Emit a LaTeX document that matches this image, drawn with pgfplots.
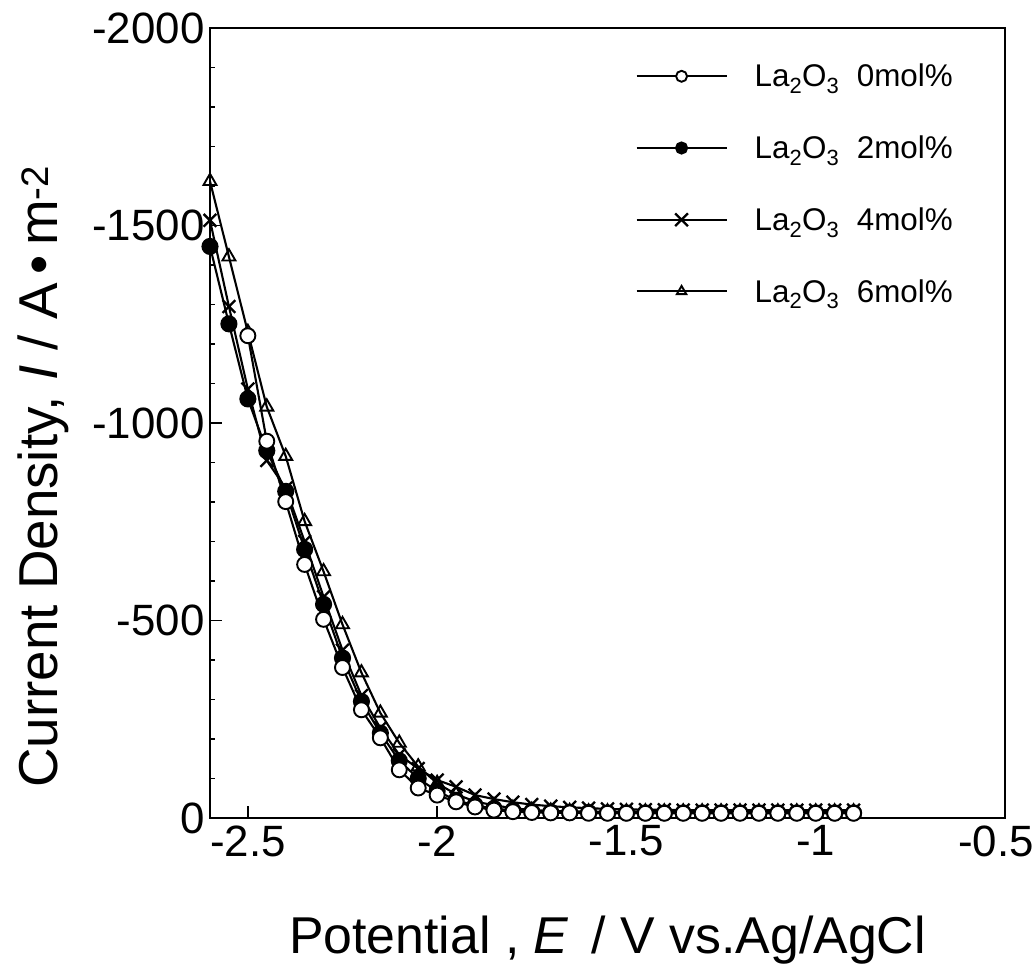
\documentclass[border=0pt]{standalone}
\usepackage{fontspec}
\setmainfont{Liberation Sans}
\usepackage{pgfplots}
\pgfplotsset{compat=1.18}

\pgfplotstableread{
x y
-2.50 -1221
-2.45 -954
-2.40 -801
-2.35 -642
-2.30 -503
-2.25 -381
-2.20 -274
-2.15 -203
-2.10 -122
-2.05 -76
-2.00 -58
-1.95 -41
-1.90 -28
-1.85 -20
-1.80 -16
-1.75 -14
-1.70 -13
-1.65 -13
-1.60 -12
-1.55 -12
-1.50 -12
-1.45 -12
-1.40 -12
-1.35 -12
-1.30 -12
-1.25 -12
-1.20 -12
-1.15 -12
-1.10 -12
-1.05 -12
-1.00 -12
-0.95 -12
-0.90 -12
}\tzero

\pgfplotstableread{
x y
-2.60 -1447
-2.55 -1251
-2.50 -1061
-2.45 -930
-2.40 -827
-2.35 -680
-2.30 -541
-2.25 -405
-2.20 -295
-2.15 -215
-2.10 -145
-2.05 -100
-2.00 -68
-1.95 -45
-1.90 -32
-1.85 -24
-1.80 -19
-1.75 -16
-1.70 -15
-1.65 -14
-1.60 -14
-1.55 -13
-1.50 -13
-1.45 -13
-1.40 -13
-1.35 -13
-1.30 -13
-1.25 -13
-1.20 -13
-1.15 -13
-1.10 -13
-1.05 -13
-1.00 -13
-0.95 -13
-0.90 -13
}\ttwo

\pgfplotstableread{
x y
-2.60 -1513
-2.55 -1295
-2.50 -1086
-2.45 -905
-2.40 -835
-2.35 -700
-2.30 -560
-2.25 -425
-2.20 -310
-2.15 -228
-2.10 -160
-2.05 -125
-2.00 -96
-1.95 -79
-1.90 -58
-1.85 -48
-1.80 -40
-1.75 -34
-1.70 -30
-1.65 -27
-1.60 -25
-1.55 -23
-1.50 -22
-1.45 -21
-1.40 -21
-1.35 -20
-1.30 -20
-1.25 -20
-1.20 -20
-1.15 -20
-1.10 -20
-1.05 -20
-1.00 -20
-0.95 -20
-0.90 -20
}\tfour

\pgfplotstableread{
x y
-2.60 -1612
-2.55 -1421
-2.50 -1230
-2.45 -1041
-2.40 -916
-2.35 -751
-2.30 -624
-2.25 -490
-2.20 -368
-2.15 -266
-2.10 -190
-2.05 -130
-2.00 -88
-1.95 -60
-1.90 -42
-1.85 -32
-1.80 -25
-1.75 -20
-1.70 -18
-1.65 -17
-1.60 -16
-1.55 -16
-1.50 -16
-1.45 -16
-1.40 -16
-1.35 -16
-1.30 -16
-1.25 -16
-1.20 -16
-1.15 -16
-1.10 -16
-1.05 -16
-1.00 -16
-0.95 -16
-0.90 -16
}\tsix

\begin{document}
\begin{tikzpicture}
\begin{axis}[
  scale only axis,
  width=795bp, height=790bp,
  xmin=-2.6, xmax=-0.5,
  ymin=-2000, ymax=0,
  y dir=reverse,
  axis line style={line width=2.2bp},
  xtick={-2.5,-2,-1.5,-1,-0.5},
  xticklabels={-2.5,-2,-1.5,-1,{\kern-18bp-0.5}},
  ytick={0,-500,-1000,-1500,-2000},
  minor ytick={-100,-200,-300,-400,-600,-700,-800,-900,-1100,-1200,-1300,-1400,-1600,-1700,-1800,-1900},
  tick pos=left,
  tick align=inside,
  major tick length=12bp,
  minor tick length=5bp,
  every tick/.style={black, line width=1.8bp},
  /pgf/number format/assume math mode=true,
  /pgf/number format/1000 sep={},
  ticklabel style={font=\fontsize{44}{48}\selectfont},
  xticklabel style={yshift=-4bp},
  yticklabel style={xshift=-2bp},
  xlabel={Potential , \textit{E}\, / V vs.Ag/AgCl},
  ylabel={Current Density, \textit{I} / A\,•\,m\textsuperscript{-2}},
  every axis x label/.style={at={(axis description cs:0.5,0)}, anchor=center, yshift=-122bp, font=\fontsize{52}{56}\selectfont},
  every axis y label/.style={at={(axis description cs:-0.21,0.432)}, anchor=center, rotate=90, font=\fontsize{55}{59}\selectfont},
  reverse legend,
  legend cell align=left,
  legend image code/.code={\draw[mark repeat=2,mark phase=2,mark size=5.5bp] plot coordinates {(0bp,0bp)(45bp,0bp)(90bp,0bp)};},
  legend style={draw=none, fill=none, at={(axis description cs:0.535,0.957)}, anchor=north west,
    font=\fontsize{31.5}{35}\selectfont, row sep=43.5bp, column sep=25bp, inner sep=0pt},
  every axis plot/.append style={black, line width=2.1bp, mark size=7.5bp},
]
\addplot[mark=triangle, mark options={fill=white, line width=1.9bp}] table {\tsix};
\addlegendentry{La\textsubscript{2}O\textsubscript{3}\ \ 6mol\%}
\addplot[mark=x, mark options={line width=2.3bp, mark size=9bp}] table {\tfour};
\addlegendentry{La\textsubscript{2}O\textsubscript{3}\ \ 4mol\%}
\addplot[mark=*, mark options={fill=black}] table {\ttwo};
\addlegendentry{La\textsubscript{2}O\textsubscript{3}\ \ 2mol\%}
\addplot[mark=*, mark options={fill=white, line width=1.9bp}] table {\tzero};
\addlegendentry{La\textsubscript{2}O\textsubscript{3}\ \ 0mol\%}
\end{axis}
\pgfresetboundingbox
\path[use as bounding box] (current axis.south west) ++(-210bp,-155bp) rectangle ++(1035bp,973bp);
\end{tikzpicture}
\end{document}
